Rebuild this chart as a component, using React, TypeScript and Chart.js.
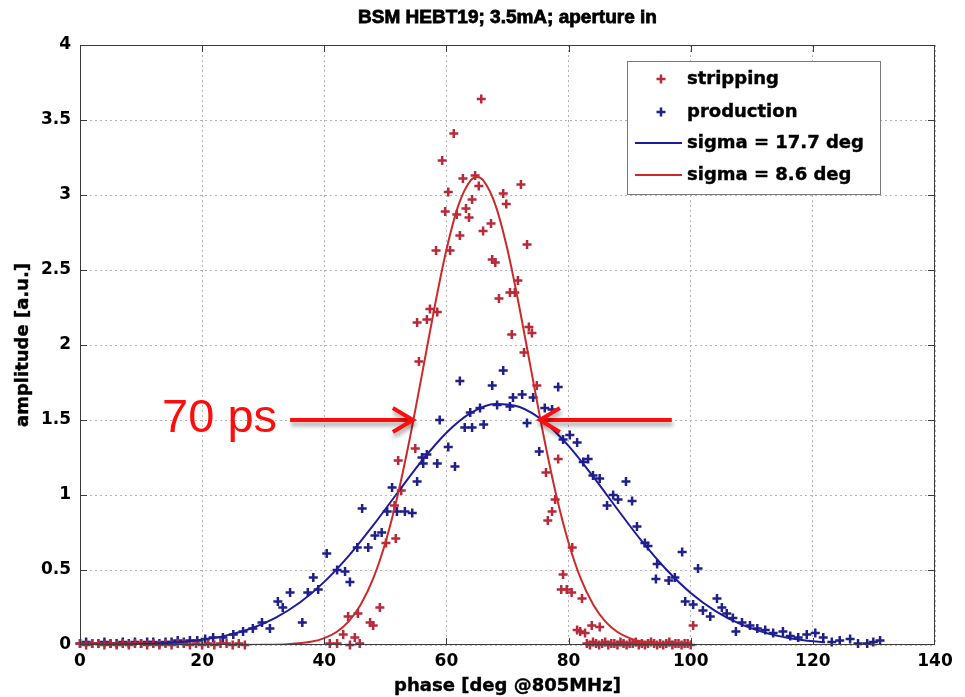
import React, { useEffect, useRef } from "react";
import { Chart, registerables } from "chart.js";
Chart.register(...registerables);

// ---------- data ----------
const stripX = [
  0, 1, 2, 3, 4, 5, 6, 7, 8, 9, 10, 11, 12, 13, 14, 15, 16, 17, 18, 19, 20, 21, 22, 23, 24, 25, 26, 27,
  40.9, 42.1, 43.1, 43.9, 44.2, 45.0, 45.5, 45.8, 47.5, 48.0, 49.1, 50.1, 51.5, 51.7, 52.1, 52.6, 54.9,
  55.2, 55.5, 56.8, 57.3, 58.3, 58.5, 59.3, 59.8, 60.3, 60.6, 61.2, 61.7, 62.2, 62.7, 63.2, 63.7, 64.2,
  64.7, 65.3, 65.7, 66.0, 67.3, 67.5, 68.0, 68.6, 69.3, 69.8, 70.4, 70.7, 71.2, 71.7, 72.2, 72.7, 73.2,
  73.5, 74.0, 74.8, 76.3, 76.6, 77.3, 77.8, 78.3, 78.8, 79.1, 79.7, 80.5, 80.6, 81.4, 81.9, 82.2, 82.7,
  83.8, 85.1,
  83, 83.5, 84, 84.5, 85, 85.5, 86, 86.5, 87, 87.5, 88, 88.5, 89, 89.5, 90, 90.5, 91, 91.5, 92, 92.5,
  93, 93.5, 94, 94.5, 95, 95.5, 96, 96.5, 97, 97.5, 98, 98.5, 99, 99.5, 100, 100.4,
];
const stripY = [
  0.01, 0.0, 0.01, 0.01, 0.0, 0.01, 0.0, 0.01, 0.0, 0.01, 0.01, 0.0, 0.01, 0.0, 0.01, 0.0, 0.01, 0.01,
  0.0, 0.01, 0.0, 0.01, 0.0, 0.01, 0.01, 0.0, 0.01, 0.0,
  0.01, 0.01, 0.07, 0.19, 0.0, 0.05, 0.21, 0.01, 0.15, 0.13, 0.25, 0.68, 0.93, 0.71, 1.23, 1.03, 1.31,
  2.15, 1.89, 2.17, 2.24, 2.63, 2.22, 3.23, 2.89, 3.02, 2.63, 3.41, 2.87, 2.73, 3.11, 2.91, 2.85, 2.97,
  3.13, 3.06, 3.64, 2.76, 2.81, 2.57, 2.55, 2.31, 3.01, 2.94, 2.35, 2.07, 2.35, 2.43, 3.07, 1.95, 2.67,
  2.12, 2.08, 1.73, 1.15, 0.83, 0.89, 0.97, 1.24, 0.37, 0.47, 0.37, 0.35, 0.65, 0.1, 0.09, 0.31, 0.08,
  0.13, 0.12,
  0.01, 0.0, 0.02, 0.01, 0.0, 0.01, 0.02, 0.0, 0.01, 0.01, 0.0, 0.02, 0.01, 0.0, 0.01, 0.01, 0.02, 0.0,
  0.01, 0.0, 0.01, 0.02, 0.01, 0.0, 0.01, 0.0, 0.01, 0.02, 0.0, 0.01, 0.01, 0.0, 0.01, 0.01, 0.0, 0.13,
];

const prodX = [
  0, 1, 2, 3, 4, 5, 6, 7, 8, 9, 10, 11, 12, 13, 14, 15, 16, 17, 18,
  19.2, 20.5, 21.8, 23.4, 25.1, 26.7, 28.3, 29.8, 31.1, 32.4, 33.2, 34.4, 36.4, 37.3, 38.2, 39.0, 40.4,
  42.1, 43.4, 44.2, 45.4, 46.2, 47.2, 48.3, 49.4, 50.3, 51.1, 51.9, 53.2, 54.4, 55.2, 56.0, 56.2, 56.8,
  58.5, 58.9, 60.3, 61.4, 62.2, 63.0, 63.9, 64.2, 65.5, 66.1, 67.5, 68.3, 69.3, 70.4, 70.9, 72.4, 73.2,
  74.2, 75.2, 76.1, 77.3, 78.3, 79.1, 80.2, 81.4, 82.4, 83.2, 84.0, 85.1, 86.3, 87.3, 88.1, 89.4, 90.4,
  91.2, 92.5, 93.0, 94.3, 94.5, 96.4, 97.4, 98.6, 99.1, 100.4, 101.2, 102.0, 103.2, 104.3, 105.1, 105.9,
  106.9, 107.4, 108.4, 109.7, 110.9, 112.2, 113.5, 115.1, 116.3, 117.6, 119.0, 120.4, 121.7, 123.1,
  124.4, 126.1, 127.4, 128.9, 129.9, 131.0,
];
const prodY = [
  0.01, 0.02, 0.01, 0.01, 0.02, 0.01, 0.01, 0.02, 0.01, 0.02, 0.01, 0.02, 0.02, 0.01, 0.02, 0.02, 0.03,
  0.02, 0.03,
  0.03, 0.04, 0.05, 0.05, 0.07, 0.09, 0.11, 0.15, 0.11, 0.29, 0.25, 0.35, 0.15, 0.35, 0.45, 0.37, 0.61,
  0.5, 0.49, 0.42, 0.65, 0.91, 0.65, 0.73, 0.75, 0.89, 1.05, 0.89, 0.89, 0.88, 1.09, 1.25, 1.21, 1.27,
  1.21, 1.5, 1.32, 1.19, 1.76, 1.45, 1.55, 1.45, 1.58, 1.47, 1.73, 1.6, 1.83, 1.59, 1.65, 1.67, 1.48,
  1.65, 1.29, 1.58, 1.57, 1.72, 1.37, 1.4, 1.35, 1.22, 1.24, 1.13, 1.11, 0.93, 1.0, 0.97, 1.09, 0.96,
  0.79, 0.68, 0.66, 0.44, 0.54, 0.43, 0.45, 0.62, 0.29, 0.27, 0.51, 0.23, 0.19, 0.31, 0.25, 0.21,
  0.18, 0.09, 0.15, 0.13, 0.11, 0.1, 0.08, 0.09, 0.06, 0.05, 0.07, 0.08, 0.05, 0.02,
  0.03, 0.04, 0.01, 0.01, 0.02, 0.03,
];

// fitted curves, values
const fitProdX = [0, 4, 8, 12, 16, 20, 24, 28, 32, 36, 40, 44, 48, 52, 56, 60, 64, 68, 72, 76, 80, 84, 88, 92, 96, 100, 104, 108, 112, 116, 120, 122];
const fitProdY = [0.001, 0.002, 0.004, 0.009, 0.018, 0.035, 0.064, 0.11, 0.181, 0.283, 0.421, 0.594, 0.797, 1.015, 1.229, 1.415, 1.547, 1.607, 1.587, 1.489, 1.327, 1.124, 0.905, 0.692, 0.503, 0.347, 0.228, 0.142, 0.084, 0.047, 0.025, 0.018];
const fitStripX = [0, 10, 20, 26, 30, 34, 38, 40, 42, 44, 46, 48, 50, 52, 54, 56, 58, 60, 62, 64, 65, 66, 68, 70, 72, 74, 76, 78, 80, 82, 84, 86, 88, 90, 92, 96, 100];
const fitStripY = [0, 0, 0, 0, 0.001, 0.005, 0.023, 0.046, 0.087, 0.158, 0.272, 0.442, 0.682, 0.995, 1.377, 1.804, 2.24, 2.635, 2.936, 3.099, 3.12, 3.099, 2.936, 2.635, 2.24, 1.804, 1.377, 0.995, 0.682, 0.442, 0.272, 0.158, 0.087, 0.046, 0.023, 0.005, 0.001];

const seriesLabels = ["stripping", "production", "sigma = 17.7 deg", "sigma = 8.6 deg"];
const titleText = "BSM HEBT19; 3.5mA; aperture in";
const xTitle = "phase [deg @805MHz]";
const yTitle = "amplitude [a.u.]";
const xMin = 0, xMax = 140, xStep = 20;
const yMin = 0, yMax = 4, yStep = 0.5;
const noteText = "70 ps";
const noteLevel = 1.5;
const leftArrow = [34.4, 54.5]; // from, to (phase)
const rightArrow = [96.9, 75.3];

const RED_PT = "#b82a3a";
const BLUE_PT = "#20208a";
const RED_LINE = "#cc2a2a";
const BLUE_LINE = "#1c1c9c";

function drawCross(ctx: CanvasRenderingContext2D, x: number, y: number, r: number, color: string) {
  ctx.save();
  ctx.strokeStyle = color;
  ctx.lineWidth = 2.5;
  ctx.beginPath();
  ctx.moveTo(x - r, y);
  ctx.lineTo(x + r, y);
  ctx.moveTo(x, y - r);
  ctx.lineTo(x, y + r);
  ctx.stroke();
  ctx.restore();
}

function boldText(ctx: CanvasRenderingContext2D, s: string, x: number, y: number, w: number) {
  ctx.fillText(s, x, y);
  ctx.lineWidth = w;
  ctx.strokeStyle = ctx.fillStyle as string;
  ctx.strokeText(s, x, y);
}

const decorPlugin = {
  id: "decor",
  afterDatasetsDraw(chart: any) {
    const ctx: CanvasRenderingContext2D = chart.ctx;
    const { left, right, top, bottom } = chart.chartArea;
    const xs = chart.scales.x;
    const ys = chart.scales.y;
    ctx.save();
    // axes box
    ctx.strokeStyle = "#3a3a3a";
    ctx.lineWidth = 1;
    ctx.strokeRect(left + 0.5, top + 0.5, right - left - 1, bottom - top - 1);
    // inward ticks
    ctx.beginPath();
    for (let v = xMin + xStep; v < xMax; v += xStep) {
      const px = Math.round(xs.getPixelForValue(v)) + 0.5;
      ctx.moveTo(px, bottom);
      ctx.lineTo(px, bottom - 7);
      ctx.moveTo(px, top);
      ctx.lineTo(px, top + 7);
    }
    for (let v = yMin + yStep; v < yMax; v += yStep) {
      const py = Math.round(ys.getPixelForValue(v)) + 0.5;
      ctx.moveTo(left, py);
      ctx.lineTo(left + 7, py);
      ctx.moveTo(right, py);
      ctx.lineTo(right - 7, py);
    }
    ctx.stroke();

    // title
    ctx.fillStyle = "#000";
    ctx.textAlign = "center";
    ctx.textBaseline = "middle";
    ctx.font = "bold 19px 'Liberation Sans'";
    boldText(ctx, titleText, (left + right) / 2, 18, 0.8);
    // axis titles
    ctx.font = "bold 18px 'DejaVu Sans'";
    boldText(ctx, xTitle, (left + right) / 2, 686, 0.4);
    ctx.save();
    ctx.translate(23, (top + bottom) / 2);
    ctx.rotate(-Math.PI / 2);
    boldText(ctx, yTitle, 0, 0, 0.4);
    ctx.restore();

    // legend
    const lx = right - 308, ly = top + 16, lw = 253, lh = 133;
    ctx.fillStyle = "#fff";
    ctx.fillRect(lx, ly, lw, lh);
    ctx.strokeStyle = "#7a7a7a";
    ctx.lineWidth = 1;
    ctx.strokeRect(lx + 0.5, ly + 0.5, lw, lh);
    const rows = [ly + 18, ly + 51, ly + 82, ly + 114];
    drawCross(ctx, lx + 34, rows[0], 4.5, RED_PT);
    drawCross(ctx, lx + 34, rows[1], 4.5, BLUE_PT);
    ctx.lineWidth = 2;
    ctx.strokeStyle = BLUE_LINE;
    ctx.beginPath();
    ctx.moveTo(lx + 8, rows[2]);
    ctx.lineTo(lx + 55, rows[2]);
    ctx.stroke();
    ctx.strokeStyle = RED_LINE;
    ctx.beginPath();
    ctx.moveTo(lx + 8, rows[3]);
    ctx.lineTo(lx + 55, rows[3]);
    ctx.stroke();
    ctx.fillStyle = "#000";
    ctx.textAlign = "left";
    ctx.font = "bold 18px 'DejaVu Sans'";
    seriesLabels.forEach((s, i) => boldText(ctx, s, lx + 60, rows[i], 0.4));

    // annotation arrows
    const py = ys.getPixelForValue(noteLevel);
    const drawArrow = (a: number, b: number) => {
      const x0 = xs.getPixelForValue(a);
      const x1 = xs.getPixelForValue(b);
      const dir = Math.sign(x1 - x0);
      ctx.save();
      ctx.strokeStyle = "#ff0d0d";
      ctx.lineWidth = 4;
      ctx.lineCap = "butt";
      ctx.lineJoin = "miter";
      ctx.shadowColor = "rgba(0,0,0,0.35)";
      ctx.shadowOffsetY = 4;
      ctx.shadowOffsetX = 1;
      ctx.shadowBlur = 4;
      ctx.beginPath();
      ctx.moveTo(x0, py);
      ctx.lineTo(x1 - dir * 2, py);
      ctx.stroke();
      ctx.beginPath();
      ctx.moveTo(x1 - dir * 20, py - 12);
      ctx.lineTo(x1, py);
      ctx.lineTo(x1 - dir * 20, py + 12);
      ctx.stroke();
      ctx.restore();
    };
    drawArrow(leftArrow[0], leftArrow[1]);
    drawArrow(rightArrow[0], rightArrow[1]);
    ctx.fillStyle = "#ff0d0d";
    ctx.textAlign = "right";
    ctx.textBaseline = "alphabetic";
    ctx.font = "47px 'Liberation Sans'";
    ctx.fillText(noteText, xs.getPixelForValue(leftArrow[0]) - 13, py + 12);
    ctx.restore();
  },
};

const tickFont = { family: "DejaVu Sans", weight: "bold", size: 17 };

export default function App() {
  const ref = useRef<HTMLCanvasElement | null>(null);
  useEffect(() => {
    if (!ref.current) return;
    const pts = (xa: number[], ya: number[]) => xa.map((x, i) => ({ x, y: ya[i] }));
    const chart = new Chart(ref.current, {
      type: "scatter",
      data: {
        datasets: [
          {
            label: seriesLabels[3],
            data: pts(fitStripX, fitStripY),
            showLine: true,
            borderColor: RED_LINE,
            borderWidth: 2,
            pointRadius: 0,
            cubicInterpolationMode: "monotone",
            order: 0,
          },
          {
            label: seriesLabels[2],
            data: pts(fitProdX, fitProdY),
            showLine: true,
            borderColor: BLUE_LINE,
            borderWidth: 2,
            pointRadius: 0,
            cubicInterpolationMode: "monotone",
            order: 1,
          },
          {
            label: seriesLabels[0],
            data: pts(stripX, stripY),
            pointStyle: "cross",
            pointRadius: 4.5,
            borderWidth: 2.5,
            borderColor: RED_PT,
            backgroundColor: RED_PT,
            clip: 8,
            order: 2,
          },
          {
            label: seriesLabels[1],
            data: pts(prodX, prodY),
            pointStyle: "cross",
            pointRadius: 4.5,
            borderWidth: 2.5,
            borderColor: BLUE_PT,
            backgroundColor: BLUE_PT,
            clip: 8,
            order: 3,
          },
        ] as any,
      },
      options: {
        animation: false,
        responsive: false,
        devicePixelRatio: 1,
        layout: { padding: { left: 0, right: 30, top: 45, bottom: 0 } },
        plugins: { legend: { display: false }, title: { display: false }, tooltip: { enabled: false } },
        scales: {
          x: {
            type: "linear",
            min: xMin,
            max: xMax,
            ticks: { stepSize: xStep, color: "#000", font: tickFont, padding: 6, maxRotation: 0, callback: (v: any) => String(v) },
            grid: { color: "#b4b4b4", drawTicks: false, lineWidth: 1 },
            border: { display: false, dash: [2, 3] },
            afterFit: (s: any) => { s.height = 52; },
          },
          y: {
            type: "linear",
            min: yMin,
            max: yMax,
            ticks: { stepSize: yStep, color: "#000", font: tickFont, padding: 9, callback: (v: any) => String(v) },
            grid: { color: "#b4b4b4", drawTicks: false, lineWidth: 1 },
            border: { display: false, dash: [2, 3] },
            afterFit: (s: any) => { s.width = 80; },
          },
        },
      } as any,
      plugins: [decorPlugin],
    });
    return () => chart.destroy();
  }, []);
  return (
    <div style={{ position: "absolute", left: 0, top: 0, width: 965, height: 697, background: "#fff" }}>
      <canvas ref={ref} width={965} height={697} style={{ display: "block" }} />
    </div>
  );
}
